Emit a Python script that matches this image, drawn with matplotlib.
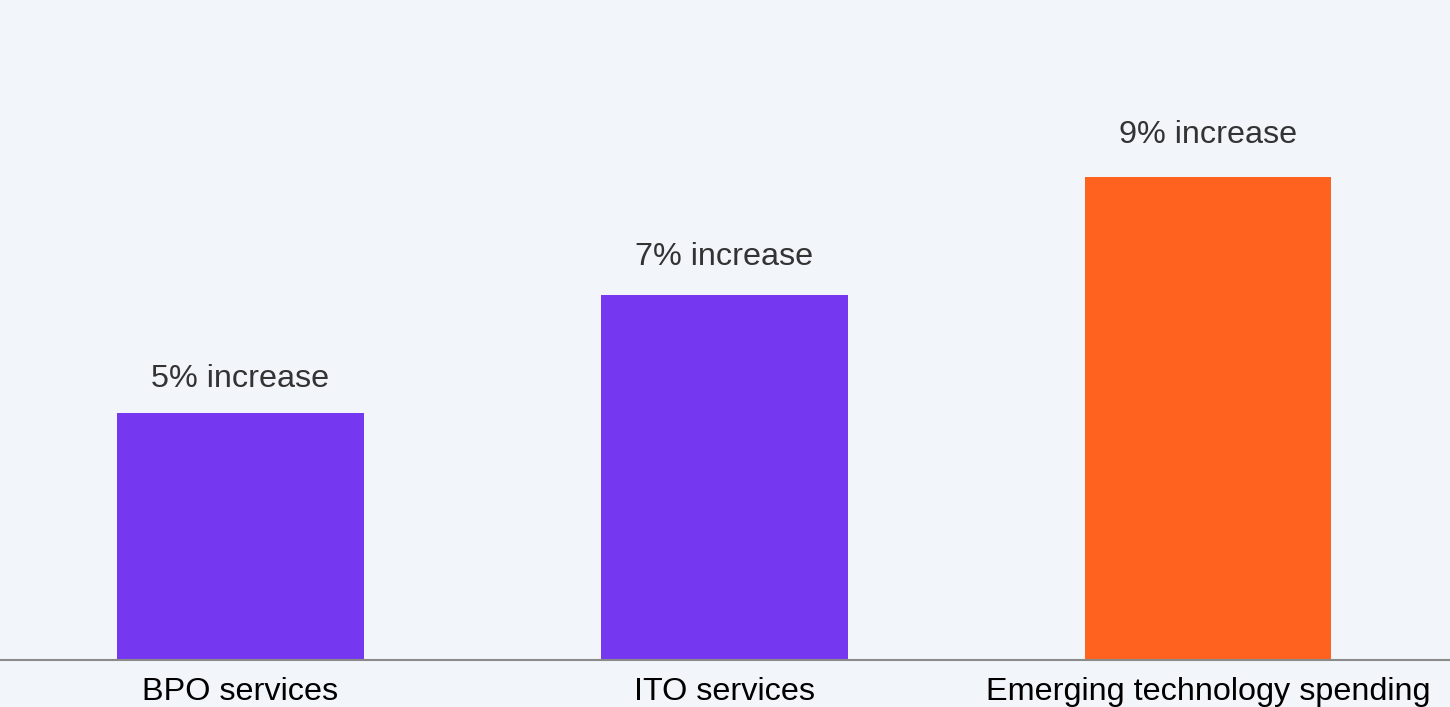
import matplotlib
matplotlib.use('Agg')
import matplotlib.pyplot as plt

categories = ['BPO services', 'ITO services', 'Emerging technology spending']
values = [5, 7, 9]
labels = ['5% increase', '7% increase', '9% increase']
colors = ['#7538F0', '#7538F0', '#FF621E']

plt.rcParams['font.family'] = ['Liberation Sans', 'DejaVu Sans']

bg = '#F2F5F9'
fig = plt.figure(figsize=(14.5, 7.07), dpi=100, facecolor=bg)
ax = fig.add_axes([0, 47 / 707, 1, 660 / 707])
ax.set_facecolor(bg)

x = range(len(categories))
ax.bar(x, values, width=0.51, color=colors, zorder=2)

for i, (v, lab) in enumerate(zip(values, labels)):
    ax.annotate(lab, (i, v), xytext=(0, 34 + 4 * i), textcoords='offset pixels',
                ha='center', va='center', fontsize=23.3, color='#333333')

ax.set_xlim(-0.497, 2.5)
ax.set_ylim(0.81, 12.0)
ax.set_xticks(list(x))
ax.set_xticklabels(categories, fontsize=23.3, color='black')
ax.tick_params(axis='x', length=0, pad=12)
ax.set_yticks([])
for s in ['top', 'right', 'left']:
    ax.spines[s].set_visible(False)
ax.spines['bottom'].set_color('#8a8a8a')
ax.spines['bottom'].set_linewidth(1.5)

fig.savefig('out.png', dpi=100, facecolor=bg)
